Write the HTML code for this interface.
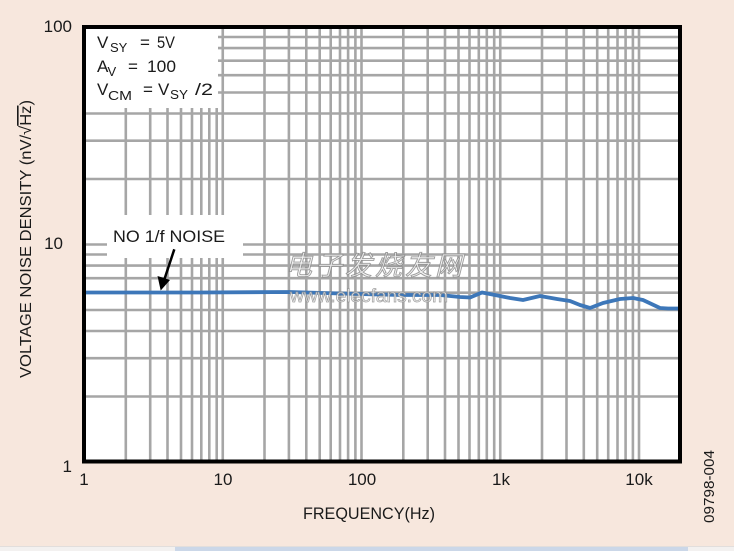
<!DOCTYPE html>
<html><head><meta charset="utf-8"><style>
html,body{margin:0;padding:0;background:#f7e7dd;}
svg{display:block;}
text{font-family:"Liberation Sans","Noto Sans CJK SC",sans-serif;fill:#1a1a1a;}
</style></head><body>
<svg width="734" height="551" viewBox="0 0 734 551" xmlns="http://www.w3.org/2000/svg">
<rect x="0" y="0" width="734" height="551" fill="#f7e7dd"/>
<!-- plot background -->
<rect x="84" y="27" width="596" height="434.5" fill="#ffffff"/>
<!-- vertical grid -->
<g stroke="#a6a6a6" stroke-width="2.6">
<line x1="125.8" y1="29" x2="125.8" y2="460"/><line x1="150.2" y1="29" x2="150.2" y2="460"/><line x1="167.5" y1="29" x2="167.5" y2="460"/><line x1="181" y1="29" x2="181" y2="460"/><line x1="192" y1="29" x2="192" y2="460"/><line x1="201.3" y1="29" x2="201.3" y2="460"/><line x1="209.3" y1="29" x2="209.3" y2="460"/><line x1="216.7" y1="29" x2="216.7" y2="460"/><line x1="222.75" y1="29" x2="222.75" y2="460"/>
<line x1="264.5" y1="29" x2="264.5" y2="460"/><line x1="288.9" y1="29" x2="288.9" y2="460"/><line x1="306.3" y1="29" x2="306.3" y2="460"/><line x1="319.7" y1="29" x2="319.7" y2="460"/><line x1="330.7" y1="29" x2="330.7" y2="460"/><line x1="340" y1="29" x2="340" y2="460"/><line x1="348.1" y1="29" x2="348.1" y2="460"/><line x1="355.4" y1="29" x2="355.4" y2="460"/><line x1="361.5" y1="29" x2="361.5" y2="460"/>
<line x1="403.3" y1="29" x2="403.3" y2="460"/><line x1="427.7" y1="29" x2="427.7" y2="460"/><line x1="445" y1="29" x2="445" y2="460"/><line x1="458.5" y1="29" x2="458.5" y2="460"/><line x1="469.5" y1="29" x2="469.5" y2="460"/><line x1="478.8" y1="29" x2="478.8" y2="460"/><line x1="486.8" y1="29" x2="486.8" y2="460"/><line x1="494.2" y1="29" x2="494.2" y2="460"/><line x1="500.25" y1="29" x2="500.25" y2="460"/>
<line x1="542" y1="29" x2="542" y2="460"/><line x1="566.5" y1="29" x2="566.5" y2="460"/><line x1="583.8" y1="29" x2="583.8" y2="460"/><line x1="597.2" y1="29" x2="597.2" y2="460"/><line x1="608.2" y1="29" x2="608.2" y2="460"/><line x1="617.5" y1="29" x2="617.5" y2="460"/><line x1="625.6" y1="29" x2="625.6" y2="460"/><line x1="632.9" y1="29" x2="632.9" y2="460"/><line x1="639" y1="29" x2="639" y2="460"/>
</g>
<!-- horizontal grid -->
<g stroke="#a6a6a6" stroke-width="2.6">
<line x1="86" y1="37" x2="678" y2="37"/><line x1="86" y1="48.1" x2="678" y2="48.1"/><line x1="86" y1="60.7" x2="678" y2="60.7"/><line x1="86" y1="75.2" x2="678" y2="75.2"/><line x1="86" y1="92.5" x2="678" y2="92.5"/><line x1="86" y1="113.5" x2="678" y2="113.5"/><line x1="86" y1="140.7" x2="678" y2="140.7"/><line x1="86" y1="179" x2="678" y2="179"/>
<line x1="86" y1="244.5" x2="678" y2="244.5"/><line x1="86" y1="254.5" x2="678" y2="254.5"/><line x1="86" y1="265.6" x2="678" y2="265.6"/><line x1="86" y1="278.2" x2="678" y2="278.2"/><line x1="86" y1="292.7" x2="678" y2="292.7"/><line x1="86" y1="310" x2="678" y2="310"/><line x1="86" y1="331" x2="678" y2="331"/><line x1="86" y1="358.2" x2="678" y2="358.2"/><line x1="86" y1="396.5" x2="678" y2="396.5"/>
</g>
<!-- label boxes -->
<rect x="86" y="29" width="132" height="79" fill="#ffffff"/>
<rect x="107" y="215" width="136" height="43" fill="#ffffff"/>
<!-- curve -->
<polyline fill="none" stroke="#3d77b9" stroke-width="3.8" stroke-linejoin="round" stroke-linecap="round"
points="86,292.5 200,292.5 290,292 340,293.5 400,295 440,295 460,297 470,297.5 482,292.5 495,295 510,298 523,300 540,296 557,299 570,301 580,305 590,308 603,303 620,299 633,298 643,300 660,308 668,308.5 679,308.5"/>
<!-- watermark -->
<g opacity="0.85">
<text x="285" y="275" font-size="27" letter-spacing="3" font-style="italic" style="fill:#f2f2f2;stroke:#8c8c8c;stroke-width:0.9">电子发烧友网</text>
<text x="290" y="302" font-size="18" textLength="158" lengthAdjust="spacingAndGlyphs" style="fill:#f6f6f6;stroke:#909090;stroke-width:0.7">www.elecfans.com</text>
</g>
<!-- border -->
<rect x="84" y="27" width="596" height="434.5" fill="none" stroke="#000" stroke-width="4"/>
<!-- top-left annotation -->
<g font-size="17">
<text x="97" y="48">V</text><text x="110" y="52" font-size="13">SY</text><text x="140" y="48">=</text><text x="157" y="48" textLength="18" lengthAdjust="spacingAndGlyphs">5V</text>
<text x="97" y="72">A</text><text x="107.5" y="76" font-size="13">V</text><text x="128" y="72">=</text><text x="147" y="72" textLength="29" lengthAdjust="spacingAndGlyphs">100</text>
<text x="97" y="95">V</text><text x="108" y="100" font-size="13" textLength="24" lengthAdjust="spacingAndGlyphs">CM</text><text x="143" y="95">=</text><text x="158" y="95">V</text><text x="170" y="99" font-size="13" textLength="18" lengthAdjust="spacingAndGlyphs">SY</text><text x="195" y="95" textLength="18" lengthAdjust="spacingAndGlyphs">/2</text>
</g>
<!-- NO 1/f NOISE -->
<text x="113" y="242" font-size="17" textLength="112" lengthAdjust="spacingAndGlyphs">NO 1/f NOISE</text>
<line x1="174.3" y1="249.3" x2="164.5" y2="279" stroke="#000" stroke-width="2.5"/>
<polygon points="160.7,290.5 157.5,276 170,280" fill="#000"/>
<!-- y tick labels -->
<g font-size="17" text-anchor="end">
<text x="72" y="32">100</text>
<text x="63" y="249">10</text>
<text x="72" y="472">1</text>
</g>
<!-- x tick labels -->
<g font-size="17" text-anchor="middle">
<text x="84" y="485">1</text>
<text x="223" y="485">10</text>
<text x="362" y="485">100</text>
<text x="501" y="485">1k</text>
<text x="639" y="485">10k</text>
</g>
<text x="303" y="519" font-size="17" textLength="132" lengthAdjust="spacingAndGlyphs">FREQUENCY(Hz)</text>
<text transform="translate(31,378) rotate(-90)" font-size="16" textLength="278" lengthAdjust="spacingAndGlyphs">VOLTAGE NOISE DENSITY (nV/√<tspan style="text-decoration:overline">Hz</tspan>)</text>
<text transform="translate(714,523) rotate(-90)" font-size="15" textLength="73" lengthAdjust="spacingAndGlyphs">09798-004</text>
<!-- bottom strip -->
<rect x="0" y="546" width="734" height="1" fill="#e2dedc"/>
<rect x="0" y="547" width="175" height="4" fill="#f3f1f0"/>
<rect x="175" y="547" width="513" height="4" fill="#cbd7e8"/>
<rect x="688" y="547" width="46" height="4" fill="#f3f1f0"/>
</svg>
</body></html>
